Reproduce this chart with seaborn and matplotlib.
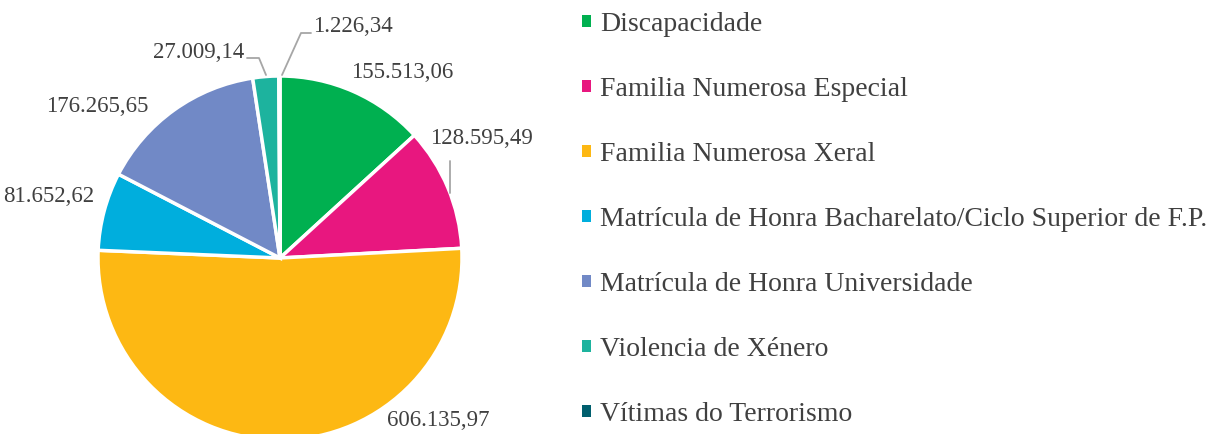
import matplotlib
matplotlib.use("Agg")
import matplotlib.pyplot as plt
import seaborn as sns

categories = [
    "Discapacidade",
    "Familia Numerosa Especial",
    "Familia Numerosa Xeral",
    "Matrícula de Honra Bacharelato/Ciclo Superior de F.P.",
    "Matrícula de Honra Universidade",
    "Violencia de Xénero",
    "Vítimas do Terrorismo",
]
values = [155513.06, 128595.49, 606135.97, 81652.62, 176265.65, 27009.14, 1226.34]
value_labels = ["155.513,06", "128.595,49", "606.135,97", "81.652,62",
                "176.265,65", "27.009,14", "1.226,34"]
colors = ["#00B050", "#E8177F", "#FDB813", "#00AEDD", "#7189C6", "#1DB39E", "#005F6E"]

sns.set_theme(style="white")
plt.rcParams["font.family"] = ["Liberation Serif", "DejaVu Serif"]

W, H = 1214, 434
CX, CY, R = 280, 258, 182

fig = plt.figure(figsize=(W / 100, H / 100), dpi=100)
ax = fig.add_axes([0, 0, 1, 1])


def px(x, y):
    # pixel position (from top-left) -> data coords where pie radius = 1
    return (x - CX) / R, (CY - y) / R


wedges, _ = ax.pie(
    values, colors=colors, startangle=90, counterclock=False,
    radius=1, center=(0, 0),
    wedgeprops=dict(edgecolor="white", linewidth=2.5),
)
ax.set_xlim(-CX / R, (W - CX) / R)
ax.set_ylim(-(H - CY) / R, CY / R)
ax.set_aspect("equal")
ax.axis("off")

txt = dict(fontsize=16.5, color="#404040", va="center")
label_pos = [(351, 72, "left"), (430, 138, "left"), (387, 420, "left"),
             (3, 196, "left"), (46, 107, "left"), (244, 53, "right"),
             (313, 27, "left")]
for lab, (x, y, ha) in zip(value_labels, label_pos):
    ax.text(*px(x, y), lab, ha=ha, **txt)

# leader lines
line = dict(color="#A6A6A6", lw=1.3)
for pts in [[(247, 58), (259, 58), (266, 75)],
            [(311, 33), (301, 33), (282, 75)],
            [(450, 161), (450, 193)]]:
    xs, ys = zip(*[px(x, y) for x, y in pts])
    ax.plot(xs, ys, **line)

leg = fig.legend(
    wedges, categories, loc="upper left",
    bbox_to_anchor=(582 / W, 1 - 12 / H), frameon=False,
    fontsize=20, labelcolor="#404040",
    handlelength=0.34, handleheight=0.26, handletextpad=0.3,
    labelspacing=1.44, borderpad=0, borderaxespad=0,
)
for h in leg.legend_handles:
    h.set_linewidth(0)

fig.savefig("out.png", dpi=100)
